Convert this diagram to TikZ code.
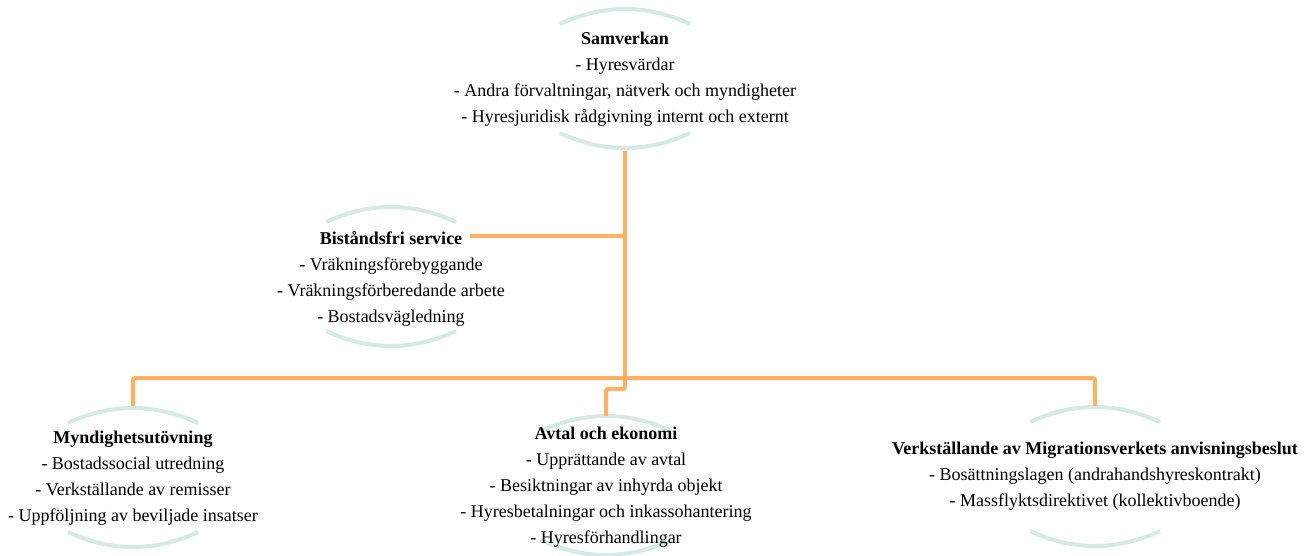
\documentclass[tikz,border=0pt]{standalone}
\usepackage{fontspec}
\setmainfont{Liberation Serif}
\definecolor{arcc}{HTML}{D3EAE5}
\definecolor{lineo}{HTML}{FFB163}
\newcommand\ringarcs[2]{%
  \draw[arcst] (#1-65,#2) .. controls (#1-21.7,#2-20) and (#1+21.7,#2-20) .. (#1+65,#2);
  \draw[arcst] (#1-65,#2+109) .. controls (#1-21.7,#2+129) and (#1+21.7,#2+129) .. (#1+65,#2+109);}
\begin{document}
\begin{tikzpicture}[x=1pt,y=-1pt,
  box/.style={align=center, inner sep=0pt, font=\fontsize{18}{26}\selectfont},
  arcst/.style={draw=arcc, line width=4pt},
  conn/.style={draw=lineo, line width=4pt, rounded corners=2pt}]
\useasboundingbox (0,0) rectangle (1316,555);
\clip (0,0) rectangle (1316,555);

% arcs
\ringarcs{625}{24}
\ringarcs{391}{222}
\ringarcs{133}{423}
\ringarcs{606}{431}
\ringarcs{1095}{422}

% nodes
\node[box] (s) at (625,79) {\textbf{Samverkan}\\- Hyresvärdar\\- Andra förvaltningar, nätverk och myndigheter\\- Hyresjuridisk rådgivning internt och externt};
\node[box] (b) at (391,279) {\textbf{Biståndsfri service}\\- Vräkningsförebyggande\\- Vräkningsförberedande arbete\\- Bostadsvägledning};
\node[box] (m) at (133,478) {\textbf{Myndighetsutövning}\\- Bostadssocial utredning\\- Verkställande av remisser\\- Uppföljning av beviljade insatser};
\node[box] (a) at (606,487) {\textbf{Avtal och ekonomi}\\- Upprättande av avtal\\- Besiktningar av inhyrda objekt\\- Hyresbetalningar och inkassohantering\\- Hyresförhandlingar};
\node[box] (v) at (1095,476) {\textbf{Verkställande av Migrationsverkets anvisningsbeslut}\\- Bosättningslagen (andrahandshyreskontrakt)\\- Massflyktsdirektivet (kollektivboende)};

% connector points
\coordinate (sb) at (625,151);
\coordinate (be) at (470,236);
\coordinate (jb) at (625,236);
\coordinate (bus) at (625,378);
\coordinate (mt) at (133,406);
\coordinate (at) at (606,416);
\coordinate (vt) at (1095,406);

\draw[conn] (sb) -- (bus) -- (625,389) -- (606,389) -- (at);
\draw[conn] (be) -- (jb);
\draw[conn] (bus) -| (mt);
\draw[conn] (bus) -| (vt);
\end{tikzpicture}
\end{document}
